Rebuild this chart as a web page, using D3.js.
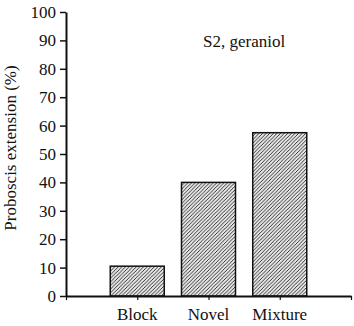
<!DOCTYPE html>
<html>
<head>
<meta charset="utf-8">
<script src="https://d3js.org/d3.v7.min.js"></script>
<style>
  body { margin: 0; background: #fff; }
</style>
</head>
<body>
<svg id="drawing_region"></svg>
<script>
const categories = ["Block", "Novel", "Mixture"];
const values = [10.5, 40, 57.5];
const yTicks = [0, 10, 20, 30, 40, 50, 60, 70, 80, 90, 100];
const title = "S2, geraniol";
const yLabel = "Proboscis extension (%)";

const FONT = "Liberation Serif, Times New Roman, DejaVu Serif, serif";

const config = {
    width: 354,
    height: 326,
    left: 66, right: 351,
    top: 12, bottom: 296
};

const svg = d3.select('#drawing_region')
    .attr('width', config.width)
    .attr('height', config.height)
    .style('font-family', FONT);

// hatch pattern
const pat = svg.append('defs').append('pattern')
    .attr('id', 'hatch')
    .attr('patternUnits', 'userSpaceOnUse')
    .attr('width', 3.6)
    .attr('height', 3.6);
pat.append('rect').attr('width', 3.6).attr('height', 3.6).attr('fill', '#e6e6e6');
pat.append('path')
    .attr('d', 'M-0.9,0.9 L0.9,-0.9 M0,3.6 L3.6,0 M2.7,4.5 L4.5,2.7')
    .attr('stroke', '#222')
    .attr('stroke-width', 0.9);

const xscale = d3.scaleLinear()
    .domain([0, 4])
    .range([config.left, config.right]);

const yscale = d3.scaleLinear()
    .domain([0, 100])
    .range([config.bottom, config.top]);

const barWidth = 54;

// bars
svg.selectAll('rect.bar')
    .data(values)
    .enter()
    .append('rect')
    .attr('class', 'bar')
    .attr('x', (d, i) => xscale(i + 1) - barWidth / 2)
    .attr('y', d => yscale(d))
    .attr('width', barWidth)
    .attr('height', d => yscale(0) - yscale(d))
    .attr('fill', 'url(#hatch)')
    .attr('stroke', '#111')
    .attr('stroke-width', 1.5);

// y axis
const yaxis = d3.axisLeft(yscale)
    .tickValues(yTicks)
    .tickSize(6)
    .tickPadding(4)
    .tickSizeOuter(0);

const yg = svg.append('g')
    .attr('transform', `translate(${config.left},0)`)
    .call(yaxis)
    .attr('font-family', FONT)
    .attr('font-size', 17);
yg.select('.domain').attr('stroke', '#111').attr('stroke-width', 2);
yg.selectAll('.tick line').attr('stroke', '#111').attr('stroke-width', 1.5);
yg.selectAll('.tick text').attr('fill', '#111');

// x axis
const xaxis = d3.axisBottom(xscale)
    .tickValues([0, 1, 2, 3, 4])
    .tickSize(4)
    .tickSizeOuter(0)
    .tickFormat('');

const xg = svg.append('g')
    .attr('transform', `translate(0,${config.bottom})`)
    .call(xaxis);
xg.select('.domain').attr('stroke', '#111').attr('stroke-width', 2);
xg.selectAll('.tick line').attr('stroke', '#111').attr('stroke-width', 1.2);

// category labels
svg.selectAll('text.cat')
    .data(categories)
    .enter()
    .append('text')
    .attr('class', 'cat')
    .attr('text-anchor', 'middle')
    .attr('x', (d, i) => xscale(i + 1))
    .attr('y', 320)
    .attr('font-family', FONT)
    .attr('font-size', 17)
    .attr('fill', '#111')
    .text(d => d);

// title
svg.append('text')
    .attr('x', 203)
    .attr('y', 47)
    .attr('font-family', FONT)
    .attr('font-size', 17)
    .attr('fill', '#111')
    .text(title);

// y label
svg.append('text')
    .attr('text-anchor', 'middle')
    .attr('transform', 'translate(16,148) rotate(-90)')
    .attr('font-family', FONT)
    .attr('font-size', 17)
    .attr('fill', '#111')
    .text(yLabel);
</script>
</body>
</html>
